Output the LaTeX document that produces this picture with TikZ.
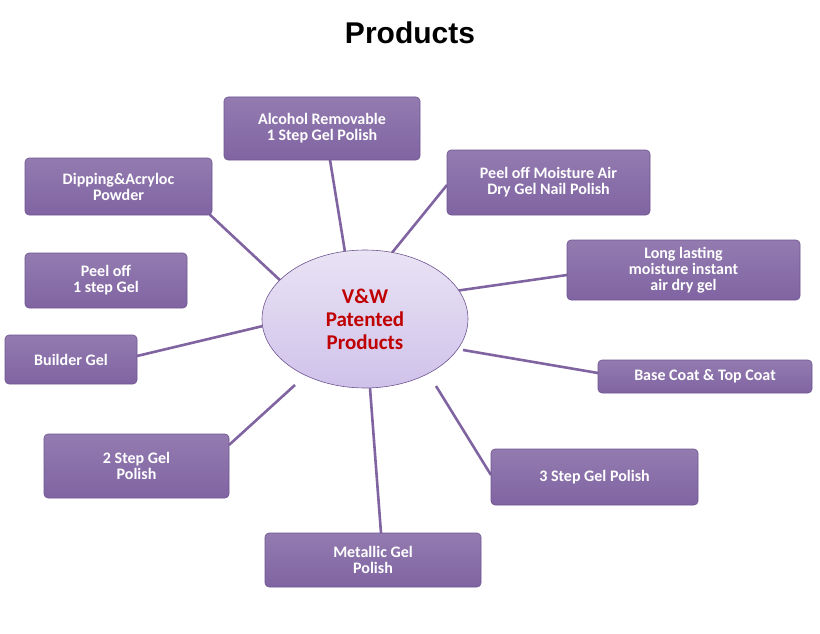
\documentclass[tikz,border=0pt]{standalone}
\usepackage{fontspec}
\usetikzlibrary{shapes.geometric}
\setmainfont{Carlito}
\newfontfamily\arialf{Liberation Sans}
\definecolor{boxc}{HTML}{8064A2}
\definecolor{boxd}{HTML}{6F5591}
\definecolor{ell}{HTML}{E4DCF2}
\definecolor{ellb}{HTML}{CFC2EA}
\definecolor{redt}{HTML}{C00000}
\begin{document}
\begin{tikzpicture}[x=1pt,y=-1pt,
  pbox/.style={draw=boxd,line width=0.6pt,rounded corners=4pt,top color=boxc!85!white,bottom color=boxc,text=white,font=\bfseries\fontsize{16}{16}\selectfont,align=center,inner sep=0pt},
  link/.style={draw=boxc,line width=2.6pt}]
\useasboundingbox (0,0) rectangle (820,634);
\coordinate (a1) at (330,160); \coordinate (a2) at (345,252);
\coordinate (b1) at (447,185); \coordinate (b2) at (391,254);
\coordinate (d1) at (207,212); \coordinate (d2) at (283,283);
\coordinate (e1) at (567,275); \coordinate (e2) at (455,291);
\coordinate (g1) at (137,356); \coordinate (g2) at (263,326);
\coordinate (h1) at (598,373); \coordinate (h2) at (463,350);
\coordinate (i1) at (229,445); \coordinate (i2) at (295,385);
\coordinate (j1) at (491,475); \coordinate (j2) at (436,386);
\coordinate (k1) at (381,533); \coordinate (k2) at (370,388);
\foreach \p in {a,b,d,e,g,h,i,j,k}{\draw[link] (\p1) -- (\p2);}
\node[font=\arialf\bfseries\fontsize{30}{30}\selectfont] (title) at (410,33) {Products};
\node[ellipse,draw=boxd,line width=0.6pt,top color=ell!80!white,bottom color=ellb,minimum width=206,minimum height=138,inner sep=0pt,text=redt,font=\bfseries\fontsize{21}{23}\selectfont,align=center] (c) at (365,319) {V\&W\\Patented\\Products};
\node[pbox,minimum width=196,minimum height=63] (a) at (322,128.5) {Alcohol Removable\\1 Step Gel Polish};
\node[pbox,minimum width=203,minimum height=65] (b) at (548.5,182.5) {Peel off Moisture Air\\Dry Gel Nail Polish};
\node[pbox,minimum width=187,minimum height=57] (d) at (118.5,186.5) {Dipping\&Acryloc\\Powder};
\node[pbox,minimum width=233,minimum height=60] (e) at (683.5,270) {Long lasting\\moisture instant\\air dry gel};
\node[pbox,minimum width=162,minimum height=55] (f) at (106,280.5) {Peel off\\1 step Gel};
\node[pbox,minimum width=132,minimum height=49] (g) at (71,359.5) {Builder Gel};
\node[pbox,minimum width=214,minimum height=33] (h) at (705,376.5) {Base Coat \& Top Coat};
\node[pbox,minimum width=185,minimum height=64] (i) at (136.5,466) {2 Step Gel\\Polish};
\node[pbox,minimum width=207,minimum height=56] (j) at (594.5,477) {3 Step Gel Polish};
\node[pbox,minimum width=216,minimum height=54] (k) at (373,560) {Metallic Gel\\Polish};
\end{tikzpicture}
\end{document}
